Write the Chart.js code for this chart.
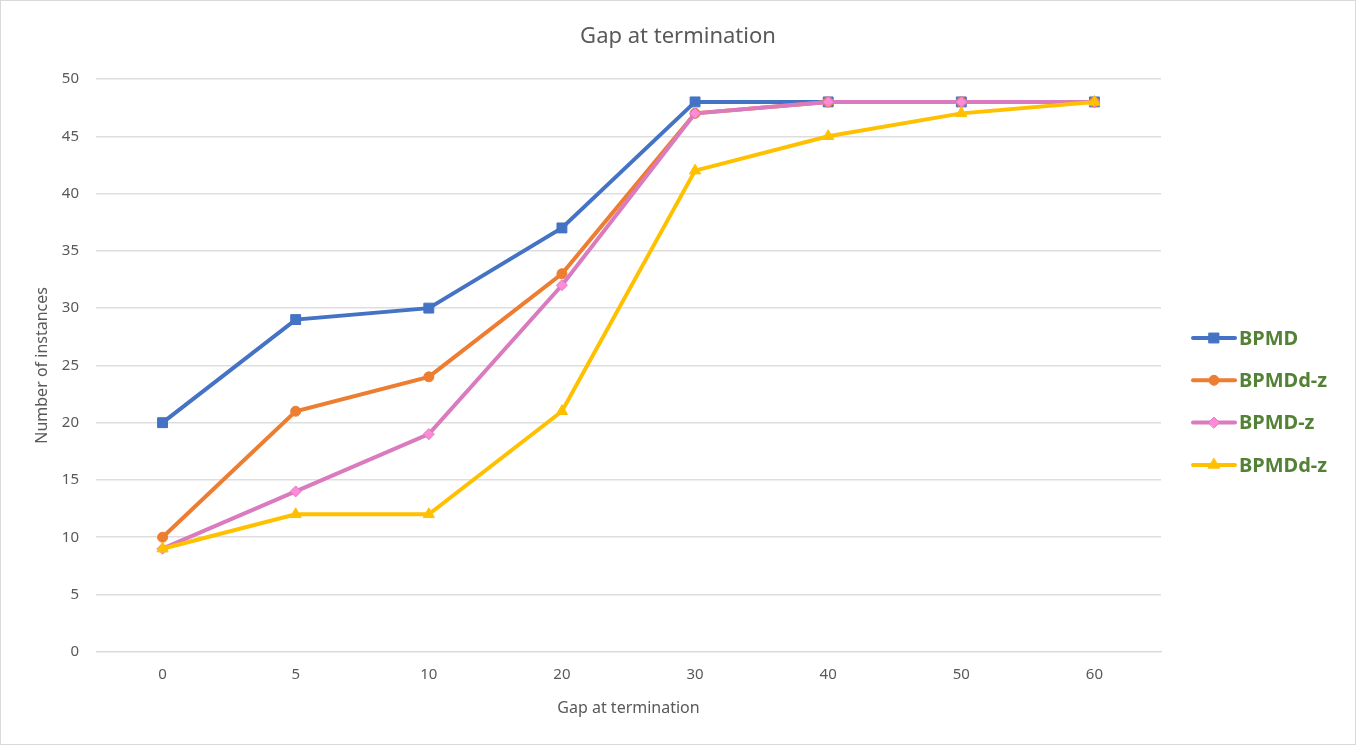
<!DOCTYPE html>
<html>
<head>
<meta charset="utf-8">
<script src="https://cdn.jsdelivr.net/npm/chart.js@4.4.0/dist/chart.umd.min.js"></script>
<style>
  html, body { margin: 0; padding: 0; background: #fff; }
  #wrap { width: 1356px; height: 745px; box-sizing: border-box; border: 1px solid #d9d9d9; }
</style>
</head>
<body>
<div id="wrap"><canvas id="gap"></canvas></div>
<script>
var gaps = ["0", "5", "10", "20", "30", "40", "50", "60"];
var bpmd = [20, 29, 30, 37, 48, 48, 48, 48];
var bpmdDz = [10, 21, 24, 33, 47, 48, 48, 48];
var bpmdZ = [9, 14, 19, 32, 47, 48, 48, 48];
var bpmdDz2 = [9, 12, 12, 21, 42, 45, 47, 48];
var seriesNames = ["BPMD", "BPMDd-z", "BPMD-z", "BPMDd-z"];
var chartTitle = "Gap at termination";

var fontName = "'Noto Sans', 'Open Sans', sans-serif";

// title centred on the whole canvas, legend drawn by hand on the right
var extras = {
    id: 'extras',
    afterDraw: function (chart) {
        var ctx = chart.ctx;
        ctx.save();
        ctx.fillStyle = '#595959';
        ctx.font = "22px " + fontName;
        ctx.textAlign = 'center';
        ctx.textBaseline = 'middle';
        ctx.fillText(chartTitle, chart.width / 2, 36);
        ctx.restore();

        var x0 = 1192, y0 = 337, step = 42.3;
        chart.data.datasets.forEach(function (ds, i) {
            var y = y0 + i * step;
            ctx.save();
            ctx.strokeStyle = ds.borderColor;
            ctx.lineWidth = 4;
            ctx.lineCap = 'round';
            ctx.beginPath();
            ctx.moveTo(x0, y);
            ctx.lineTo(x0 + 42, y);
            ctx.stroke();
            ctx.fillStyle = ds.pointBackgroundColor;
            ctx.strokeStyle = ds.pointBorderColor;
            ctx.lineWidth = 1;
            Chart.helpers.drawPoint(ctx, {
                pointStyle: ds.pointStyle,
                radius: ds.pointRadius,
                borderWidth: 1
            }, x0 + 21, y);
            ctx.fillStyle = '#538135';
            ctx.font = "bold 20px " + fontName;
            ctx.textAlign = 'left';
            ctx.textBaseline = 'middle';
            ctx.fillText(ds.label, x0 + 46, y + 1);
            ctx.restore();
        });
    }
};

function initializeChart() {
    var canvas = document.getElementById("gap");
    Chart.defaults.font.family = fontName;
    Chart.defaults.color = '#595959';

    new Chart(canvas, {
        type: 'line',
        data: {
            labels: gaps,
            datasets: [{
                label: seriesNames[0],
                data: bpmd,
                borderColor: '#4472C4',
                pointBackgroundColor: '#4472C4',
                pointBorderColor: '#4472C4',
                pointStyle: 'rect',
                pointRadius: 7,
                order: 4
            }, {
                label: seriesNames[1],
                data: bpmdDz,
                borderColor: '#ED7D31',
                pointBackgroundColor: '#ED7D31',
                pointBorderColor: '#ED7D31',
                pointStyle: 'circle',
                pointRadius: 5,
                order: 3
            }, {
                label: seriesNames[2],
                data: bpmdZ,
                borderColor: '#DA7BBF',
                pointBackgroundColor: '#FF8AD8',
                pointBorderColor: '#DA7BBF',
                pointStyle: 'rectRot',
                pointRadius: 5.5,
                order: 2
            }, {
                label: seriesNames[3],
                data: bpmdDz2,
                borderColor: '#FFC000',
                pointBackgroundColor: '#FFC000',
                pointBorderColor: '#FFC000',
                pointStyle: 'triangle',
                pointRadius: 6.5,
                order: 1
            }]
        },
        options: {
            responsive: true,
            maintainAspectRatio: false,
            animation: false,
            elements: {
                line: { borderWidth: 4, tension: 0, fill: false },
                point: { borderWidth: 1 }
            },
            layout: { padding: { left: 28, right: 194, top: 78, bottom: 22 } },
            plugins: {
                legend: { display: false },
                tooltip: { enabled: false }
            },
            scales: {
                x: {
                    offset: true,
                    grid: { display: false, drawTicks: false },
                    border: { display: true, color: '#d9d9d9', width: 1 },
                    ticks: { font: { size: 15 }, padding: 14 },
                    title: {
                        display: true,
                        text: 'Gap at termination',
                        font: { size: 16 },
                        padding: { top: 1 }
                    }
                },
                y: {
                    min: 0,
                    max: 50,
                    afterFit: function (scale) { scale.width = 67; },
                    grid: { color: '#dedede', lineWidth: 1.5, drawTicks: false },
                    border: { display: false },
                    ticks: { stepSize: 5, font: { size: 15 }, padding: 17 },
                    title: {
                        display: true,
                        text: 'Number of instances',
                        font: { size: 16 },
                        padding: { top: 4, bottom: 4 }
                    }
                }
            }
        },
        plugins: [extras]
    });
}

initializeChart();
</script>
</body>
</html>
